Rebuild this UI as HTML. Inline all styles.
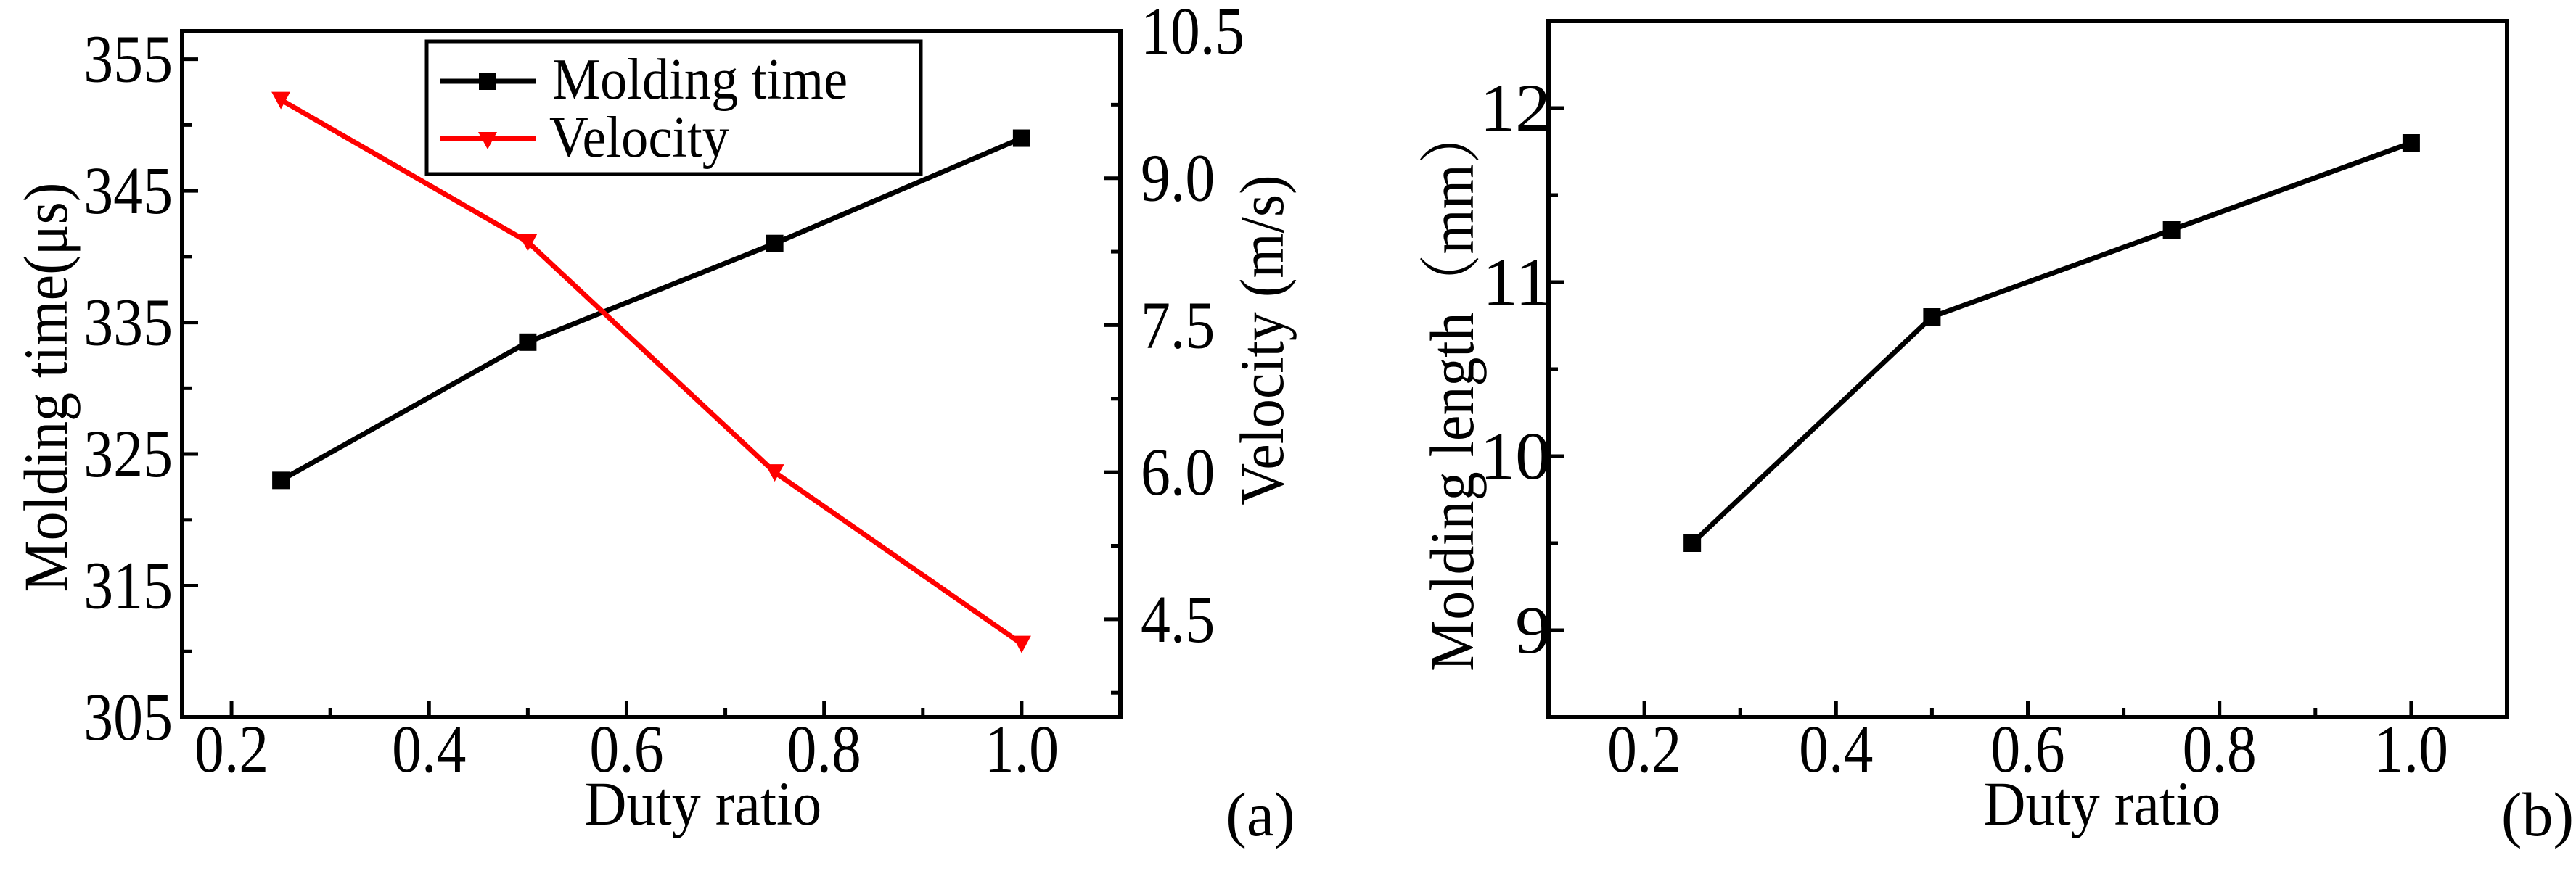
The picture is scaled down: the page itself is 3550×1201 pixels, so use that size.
<!DOCTYPE html>
<html><head><meta charset="utf-8"><style>
html,body{margin:0;padding:0;background:#fff;}
svg{display:block;font-family:"Liberation Serif",serif;}
</style></head><body>
<svg id="fig" width="3550" height="1201" viewBox="0 0 3550 1201" xmlns="http://www.w3.org/2000/svg">
<g id="ga"></g>
<g id="gb"></g>
</svg>
<script>
const dutyA = [0.25, 0.5, 0.75, 1.0];
const moldingTime = [323, 333.5, 341, 349];
const velocity = [9.8, 8.35, 6.0, 4.25];
const xTicks = ["0.2","0.4","0.6","0.8","1.0"];
const leftTicks = ["305","315","325","335","345","355"];
const rightTicks = ["4.5","6.0","7.5","9.0","10.5"];
const dutyB = [0.25, 0.5, 0.75, 1.0];
const moldingLength = [9.5, 10.8, 11.3, 11.8];
const bTicks = ["9","10","11","12"];

const NS="http://www.w3.org/2000/svg";
function mk(p,tag,at){const e=document.createElementNS(NS,tag);for(const k in at)e.setAttribute(k,at[k]);p.appendChild(e);return e;}
function txt(p,s,x,y,size,anchor,rot,sx){
  const t=mk(p,'text',{x:0,y:0,'font-size':size,'text-anchor':anchor||'middle',fill:'#000'});
  let tr='translate('+x+' '+y+')';
  if(rot)tr+=' rotate(-90)';
  if(sx)tr+=' scale('+sx+' 1)';
  t.setAttribute('transform',tr);
  t.textContent=s;return t;}
function sq(p,x,y,c){return mk(p,'rect',{x:x-12,y:y-12,width:24,height:24,fill:c});}
function tri(p,x,y,c){return mk(p,'polygon',{points:(x-13)+','+(y-11)+' '+(x+13)+','+(y-11)+' '+x+','+(y+13),fill:c});}

// ---- Chart A
(function(){
const g=document.getElementById('ga');
const L=251,R=1544,T=43,B=989;
const xs=v=>L+(v-0.15)/(1.1-0.15)*(R-L);
const yl=v=>B-(v-305)/(357.13-305)*(B-T);
const yr=v=>B-(v-3.5)/(10.5-3.5)*(B-T);
let e;
e=mk(g,'rect',{x:L,y:T,width:R-L,height:B-T,fill:'none',stroke:'#000','stroke-width':6});


for(let i=2;i<=10;i++){const v=i/10,x=xs(v),len=i%2==0?22:13;mk(g,'line',{x1:x,y1:B,x2:x,y2:B-len,stroke:'#000','stroke-width':5});}
xTicks.forEach(s=>{e=txt(g,s,xs(parseFloat(s)),1064,93,'middle',false,0.88);

});
for(let v=305;v<=355;v+=5){const y=yl(v),len=v%10==5?22:13;mk(g,'line',{x1:L,y1:y,x2:L+len,y2:y,stroke:'#000','stroke-width':5});}
leftTicks.forEach(s=>{e=txt(g,s,238,yl(+s)+31,93,'end',false,0.88);

});
for(let v=3.75;v<=10.5;v+=0.75){const y=yr(v),len=(Math.abs((v-4.5)/1.5-Math.round((v-4.5)/1.5))<0.01)?22:13;mk(g,'line',{x1:R,y1:y,x2:R-len,y2:y,stroke:'#000','stroke-width':5});}
rightTicks.forEach(s=>{e=txt(g,s,1572,yr(+s)+31,93,'start',false,0.88);

});
e=txt(g,'Duty ratio',969,1137,86,'middle',false,0.93);


e=txt(g,'Molding time(μs)',92,534,86,'middle',true,0.93);


e=txt(g,'Velocity (m/s)',1768,469,86,'middle',true,0.93);


e=txt(g,'(a)',1737,1152,86);


e=mk(g,'polyline',{points:dutyA.map((d,i)=>xs(d)+','+yl(moldingTime[i])).join(' '),fill:'none',stroke:'#000','stroke-width':7});


dutyA.forEach((d,i)=>{e=sq(g,xs(d),yl(moldingTime[i]),'#000');

});
e=mk(g,'polyline',{points:dutyA.map((d,i)=>xs(d)+','+yr(velocity[i])).join(' '),fill:'none',stroke:'#f00','stroke-width':7});


dutyA.forEach((d,i)=>{e=tri(g,xs(d),yr(velocity[i]),'#f00');

});
const lg=mk(g,'g',{});


mk(lg,'rect',{x:588,y:57,width:681,height:183,fill:'#fff',stroke:'#000','stroke-width':5});
mk(lg,'line',{x1:606,y1:112,x2:738,y2:112,stroke:'#000','stroke-width':7});sq(lg,672,112,'#000');
e=txt(lg,'Molding time',761,136,80,'start',false,0.93);


mk(lg,'line',{x1:606,y1:191,x2:738,y2:191,stroke:'#f00','stroke-width':7});tri(lg,672,193,'#f00');
e=txt(lg,'Velocity',757,216,80,'start',false,0.93);


})();

// ---- Chart B
(function(){
const g=document.getElementById('gb');
const L=2134,R=3455,T=29,B=989;
const xs=v=>L+(v-0.1)/(1.1-0.1)*(R-L);
const ys=v=>B-(v-8.5)/(12.5-8.5)*(B-T);
let e;
e=mk(g,'rect',{x:L,y:T,width:R-L,height:B-T,fill:'none',stroke:'#000','stroke-width':6});


for(let i=2;i<=10;i++){const x=xs(i/10),len=i%2==0?22:13;mk(g,'line',{x1:x,y1:B,x2:x,y2:B-len,stroke:'#000','stroke-width':5});}
xTicks.forEach(s=>{e=txt(g,s,xs(parseFloat(s)),1064,93,'middle',false,0.88);

});
for(let v=9;v<=12;v+=0.5){const y=ys(v),len=v%1==0?22:13;mk(g,'line',{x1:L,y1:y,x2:L+len,y2:y,stroke:'#000','stroke-width':5});}
bTicks.forEach(s=>{e=txt(g,s,2137,ys(+s)+31,93,'end',false,1.05);

});
e=txt(g,'Duty ratio',2897,1137,86,'middle',false,0.93);


e=txt(g,'Molding length（mm）',2030,536,86,'middle',true,0.93);


e.setAttribute('font-family','"Liberation Serif","Noto Serif CJK SC",serif');
e=txt(g,'(b)',3497,1152,86);


e=mk(g,'polyline',{points:dutyB.map((d,i)=>xs(d)+','+ys(moldingLength[i])).join(' '),fill:'none',stroke:'#000','stroke-width':7});


dutyB.forEach((d,i)=>{e=sq(g,xs(d),ys(moldingLength[i]),'#000');

});
})();
</script>
</body></html>
